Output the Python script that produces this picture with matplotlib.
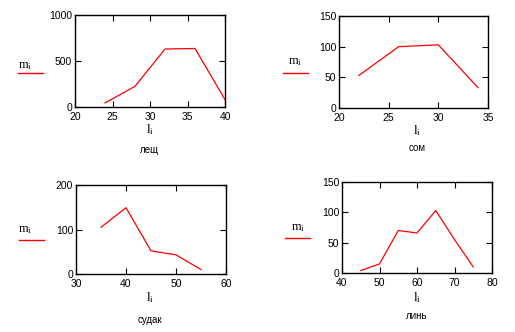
import matplotlib
matplotlib.use("Agg")
import matplotlib.pyplot as plt

plt.rcParams["mathtext.fontset"] = "custom"
plt.rcParams["mathtext.rm"] = "Liberation Serif"
plt.rcParams["mathtext.it"] = "Liberation Serif:italic"

W, H = 515, 332

# data
lesh_l = [24, 28, 32, 36, 40]
lesh_m = [44, 225, 630, 636, 80]
som_l = [22, 26, 30, 34]
som_m = [53, 100, 103, 33]
sudak_l = [35, 40, 45, 50, 55]
sudak_m = [105, 149, 52, 43, 10]
lin_l = [45, 50, 55, 60, 65, 70, 75]
lin_m = [4, 15, 70, 66, 103, 55, 10]

panels = [
    dict(x=lesh_l, y=lesh_m, xlim=(20, 40), ylim=(0, 1000), xt=[20, 25, 30, 35, 40], yt=[0, 500, 1000],
         box=(75, 15, 225, 107), ml=(25, 66), leg=(18, 43, 73), ll=(150, 130), title="лещ", tp=(150, 150)),
    dict(x=som_l, y=som_m, xlim=(20, 35), ylim=(0, 150), xt=[20, 25, 30, 35], yt=[0, 50, 100, 150],
         box=(339, 16, 488, 108), ml=(295, 62), leg=(283, 308, 73), ll=(417, 131), title="сом", tp=(417, 148)),
    dict(x=sudak_l, y=sudak_m, xlim=(30, 60), ylim=(0, 200), xt=[30, 40, 50, 60], yt=[0, 100, 200],
         box=(76, 185, 226, 274), ml=(25, 229), leg=(19, 44, 240), ll=(150, 298), title="судак", tp=(150, 320)),
    dict(x=lin_l, y=lin_m, xlim=(40, 80), ylim=(0, 150), xt=[40, 50, 60, 70, 80], yt=[0, 50, 100, 150],
         box=(342, 182, 492, 273), ml=(298, 228), leg=(285, 310, 238), ll=(417, 298), title="линь", tp=(417, 316)),
]

fig = plt.figure(figsize=(W / 100, H / 100), dpi=100)
fig.patch.set_facecolor("white")

for p in panels:
    x0, y0, x1, y1 = p["box"]
    ax = fig.add_axes([x0 / W, 1 - y1 / H, (x1 - x0) / W, (y1 - y0) / H])
    ax.plot(p["x"], p["y"], color="#ff0000", lw=0.9)
    ax.set_xlim(*p["xlim"])
    ax.set_ylim(*p["ylim"])
    ax.set_xticks(p["xt"])
    ax.set_yticks(p["yt"])
    ax.tick_params(direction="in", top=True, right=True, length=4, width=0.8,
                   labelsize=7.5, colors="black")
    ax.tick_params(axis="x", pad=3.5)
    ax.tick_params(axis="y", pad=2)
    for lab in ax.get_xticklabels() + ax.get_yticklabels():
        lab.set_family("Liberation Sans")
    ylabs = ax.get_yticklabels()
    ylabs[0].set_va("center_baseline")
    for s in ax.spines.values():
        s.set_linewidth(1.0)
    fig.text(p["ml"][0] / W, 1 - p["ml"][1] / H, r"$\mathrm{m}_{\mathrm{i}}$", ha="center", va="center",
             fontsize=9)
    lx0, lx1, ly = p["leg"]
    fig.add_artist(plt.Line2D([lx0 / W, lx1 / W], [1 - ly / H, 1 - ly / H], color="#ff0000", lw=1.0))
    fig.text(p["ll"][0] / W, 1 - p["ll"][1] / H, r"$\mathrm{l}_{\mathrm{i}}$", ha="center", va="center",
             fontsize=9.5)
    fig.text(p["tp"][0] / W, 1 - p["tp"][1] / H, p["title"], ha="center", va="center",
             fontsize=7, family="Liberation Sans")

fig.savefig("out.png", dpi=100)
